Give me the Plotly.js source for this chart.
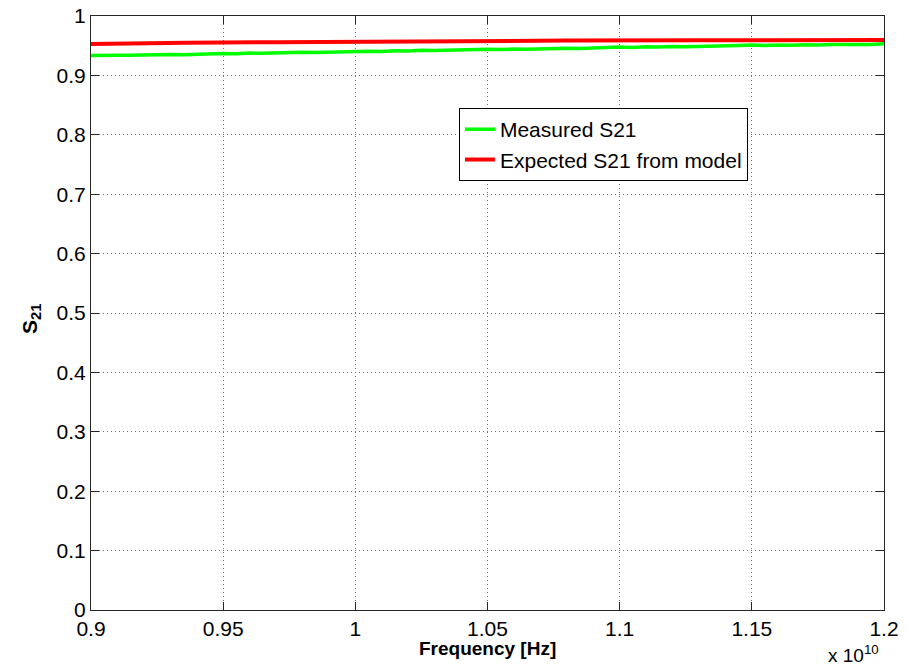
<!DOCTYPE html>
<html>
<head>
<meta charset="utf-8">
<script src="https://cdn.plot.ly/plotly-3.0.1.min.js"></script>
<style>
html,body{margin:0;padding:0;background:#fff;}
#chart{width:908px;height:669px;}
</style>
</head>
<body>
<div id="chart"></div>
<script>
// Frequency sweep (Hz)
const freqMeasured = [
  9.00e9, 9.05e9, 9.10e9, 9.15e9, 9.20e9, 9.25e9, 9.30e9, 9.35e9, 9.40e9, 9.45e9,
  9.50e9, 9.55e9, 9.60e9, 9.65e9, 9.70e9, 9.75e9, 9.80e9, 9.85e9, 9.90e9, 9.95e9,
  10.00e9, 10.05e9, 10.10e9, 10.15e9, 10.20e9, 10.25e9, 10.30e9, 10.35e9, 10.40e9, 10.45e9,
  10.50e9, 10.55e9, 10.60e9, 10.65e9, 10.70e9, 10.75e9, 10.80e9, 10.85e9, 10.90e9, 10.95e9,
  11.00e9, 11.05e9, 11.10e9, 11.15e9, 11.20e9, 11.25e9, 11.30e9, 11.35e9, 11.40e9, 11.45e9,
  11.50e9, 11.55e9, 11.60e9, 11.65e9, 11.70e9, 11.75e9, 11.80e9, 11.85e9, 11.90e9, 11.95e9,
  12.00e9
];
const s21Measured = [
  0.9335, 0.9331, 0.9340, 0.9338, 0.9345, 0.9342, 0.9351, 0.9349, 0.9358, 0.9356,
  0.9368, 0.9364, 0.9376, 0.9373, 0.9382, 0.9380, 0.9391, 0.9387, 0.9396, 0.9393,
  0.9401, 0.9408, 0.9404, 0.9416, 0.9411, 0.9423, 0.9419, 0.9428, 0.9426, 0.9435,
  0.9440, 0.9434, 0.9445, 0.9441, 0.9450, 0.9447, 0.9456, 0.9451, 0.9462, 0.9469,
  0.9477, 0.9470, 0.9481, 0.9477, 0.9488, 0.9483, 0.9492, 0.9488, 0.9498, 0.9504,
  0.9510, 0.9503, 0.9513, 0.9508, 0.9518, 0.9512, 0.9521, 0.9517, 0.9525, 0.9522,
  0.9532
];
const freqModel = [9.00e9, 9.10e9, 9.36e9, 9.70e9, 9.91e9, 10.15e9, 10.50e9, 10.80e9, 11.30e9, 11.70e9, 12.00e9];
const s21Model  = [0.9530, 0.9539, 0.9550, 0.9560, 0.9567, 0.9575, 0.9581, 0.9586, 0.9592, 0.9595, 0.9597];

const xTickVals = [9.0e9, 9.5e9, 10.0e9, 10.5e9, 11.0e9, 11.5e9, 12.0e9];
const xTickText = ["0.9", "0.95", "1", "1.05", "1.1", "1.15", "1.2"];
const yTickVals = [0, 0.1, 0.2, 0.3, 0.4, 0.5, 0.6, 0.7, 0.8, 0.9, 1];
const yTickText = ["0", "0.1", "0.2", "0.3", "0.4", "0.5", "0.6", "0.7", "0.8", "0.9", "1"];

const FONT = '"Liberation Sans", Arial, Helvetica, sans-serif';

const traces = [
  {x: freqMeasured, y: s21Measured, type: 'scatter', mode: 'lines', name: 'Measured S21',
   line: {color: '#00ff00', width: 3.5}},
  {x: freqModel, y: s21Model, type: 'scatter', mode: 'lines', name: 'Expected S21 from model',
   line: {color: '#ff0000', width: 4}}
];

const axisCommon = {
  showline: true, mirror: 'ticks', linecolor: '#262626', linewidth: 1,
  ticks: 'inside', ticklen: 8, tickcolor: '#262626', tickwidth: 1,
  showgrid: true, gridcolor: '#6e6e6e', griddash: '1px,3px', gridwidth: 1,
  zeroline: false, tickfont: {family: FONT, size: 21, color: '#000'}
};

const layout = {
  width: 908, height: 669,
  margin: {l: 91, r: 24, t: 16, b: 59},
  paper_bgcolor: '#ffffff', plot_bgcolor: '#ffffff',
  font: {family: FONT, color: '#000'},
  showlegend: true,
  legend: {x: 0.464, y: 0.845, xanchor: 'left', yanchor: 'top',
           bordercolor: '#000', borderwidth: 1, bgcolor: '#fff',
           font: {family: FONT, size: 21, color: '#000'},
           tracegroupgap: 0, itemwidth: 30},
  xaxis: Object.assign({}, axisCommon, {range: [9e9, 1.2e10], tickmode: 'array',
           tickvals: xTickVals, ticktext: xTickText, title: {text: ''}}),
  yaxis: Object.assign({}, axisCommon, {range: [0, 1], tickmode: 'array',
           tickvals: yTickVals, ticktext: yTickText, title: {text: ''}}),
  annotations: [
    {xref: 'paper', yref: 'paper', x: 0.5, y: -0.064, xanchor: 'center', yanchor: 'middle',
     text: '<b>Frequency [Hz]</b>', showarrow: false, font: {family: FONT, size: 19, color: '#000'}},
    {xref: 'paper', yref: 'paper', x: -0.0757, y: 0.49, xanchor: 'center', yanchor: 'middle',
     text: '<b>S<sub>21</sub></b>', textangle: -90, showarrow: false, font: {family: FONT, size: 21, color: '#000'}},
    {xref: 'paper', yref: 'paper', x: 0.996, y: -0.074, xanchor: 'right', yanchor: 'middle',
     text: 'x 10<sup>10</sup>', showarrow: false, font: {family: FONT, size: 19, color: '#000'}}
  ]
};

Plotly.newPlot('chart', traces, layout, {displayModeBar: false, staticPlot: true});
</script>
</body>
</html>
